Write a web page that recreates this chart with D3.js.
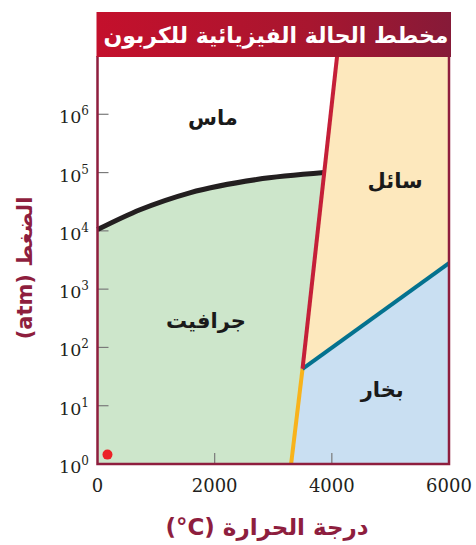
<!DOCTYPE html>
<html><head><meta charset="utf-8">
<script src="https://cdn.jsdelivr.net/npm/d3@7"></script>
<style>body{margin:0;background:#fff}svg{display:block}</style>
</head><body>
<svg id="c" width="476" height="545"></svg>
<script>
// ---- data ----
const title = "مخطط الحالة الفيزيائية للكربون";
const xLabel = "درجة الحرارة \u200E(°C)\u200E";
const yLabel = "الضغط \u200E(atm)\u200E";
const xTicks = [0, 2000, 4000, 6000];
const yTickExps = [0, 1, 2, 3, 4, 5, 6];
const xDomain = [0, 6000];
const yDomain = [1, 1e7];
// diamond / graphite boundary (T °C, P atm)
const graphiteDiamond = [[0, 1.05e4], [725, 2.3e4], [1575, 4.5e4], [2715, 7.6e4], [3870, 1.0e5]];
// solid / liquid boundary
const melting = [[3500, 43], [4090, 1e7]];
// liquid / vapor boundary
const boiling = [[3500, 43], [6000, 2800]];
// graphite / vapor boundary
const sublimation = [[3305, 1], [3500, 43]];
const triple = [3500, 43];
const refPoint = [170, 1.45];
const phaseLabels = [
  {name: "ماس", T: 1970, P: 8.8e5},
  {name: "سائل", T: 5080, P: 7.2e4},
  {name: "جرافيت", T: 1850, P: 280},
  {name: "بخار", T: 4860, P: 18.6}
];

// ---- chart ----
const svg = d3.select("#c");
const x = d3.scaleLinear().domain(xDomain).range([97.5, 449]);
const y = d3.scaleLog().domain(yDomain).range([464, 56]);
const X = d => x(d[0]), Y = d => y(d[1]);
const pt = d => `${x(d[0])},${y(d[1])}`;

const curveLine = d3.line().x(X).y(Y).curve(d3.curveMonotoneX);
const straight = d3.line().x(X).y(Y);

const pTop = yDomain[1], pBot = yDomain[0];
// graphite (green)
const gPath = curveLine(graphiteDiamond) +
  "L" + pt(triple) + "L" + pt(sublimation[0]) + "L" + pt([xDomain[0], pBot]) + "Z";
svg.append("path").attr("d", gPath).attr("fill", "#cde6cb");
// liquid
svg.append("path").attr("d", straight([melting[1], [xDomain[1], pTop], boiling[1], triple]) + "Z")
  .attr("fill", "#fde8bd");
// vapor
svg.append("path").attr("d", straight([triple, boiling[1], [xDomain[1], pBot], sublimation[0]]) + "Z")
  .attr("fill", "#c9dff2");

// ticks (inside)
const tickCol = "#7a7a7a";
svg.append("g").selectAll("line").data(yTickExps.slice(1)).join("line")
  .attr("x1", x(0)).attr("x2", x(0) + 11)
  .attr("y1", d => y(Math.pow(10, d))).attr("y2", d => y(Math.pow(10, d)))
  .attr("stroke", tickCol).attr("stroke-width", 1.2);
svg.append("g").selectAll("line").data(xTicks.slice(1, -1)).join("line")
  .attr("x1", d => x(d)).attr("x2", d => x(d))
  .attr("y1", y(1)).attr("y2", y(1) - 11)
  .attr("stroke", tickCol).attr("stroke-width", 1.2);

// boundary lines
svg.append("path").attr("d", curveLine(graphiteDiamond)).attr("fill", "none")
  .attr("stroke", "#231f20").attr("stroke-width", 5);
svg.append("path").attr("d", straight(sublimation)).attr("fill", "none")
  .attr("stroke", "#f8b31b").attr("stroke-width", 4);
svg.append("path").attr("d", straight(boiling)).attr("fill", "none")
  .attr("stroke", "#04728f").attr("stroke-width", 4);
svg.append("path").attr("d", straight(melting)).attr("fill", "none")
  .attr("stroke", "#c51f38").attr("stroke-width", 4);

// reference point
svg.append("circle").attr("cx", X(refPoint)).attr("cy", Y(refPoint)).attr("r", 5).attr("fill", "#ec2227");

// frame
const frameCol = "#8e1e3e";
svg.append("path")
  .attr("d", `M${x(0)},${y(pTop)}L${x(0)},${y(pBot)}L${x(6000)},${y(pBot)}L${x(6000)},${y(pTop)}`)
  .attr("fill", "none").attr("stroke", frameCol).attr("stroke-width", 2.5);

// phase labels
svg.append("g").selectAll("text").data(phaseLabels).join("text")
  .attr("x", d => x(d.T)).attr("y", d => y(d.P))
  .attr("text-anchor", "middle").attr("dominant-baseline", "central")
  .attr("direction", "rtl")
  .attr("font-family", "DejaVu Sans").attr("font-weight", "bold").attr("font-size", 21)
  .attr("fill", "#1a1a1a").text(d => d.name);

// title bar
const grad = svg.append("defs").append("linearGradient").attr("id", "tg");
grad.append("stop").attr("offset", "0%").attr("stop-color", "#c4102c");
grad.append("stop").attr("offset", "60%").attr("stop-color", "#a8162f");
grad.append("stop").attr("offset", "100%").attr("stop-color", "#861a38");
svg.append("rect").attr("x", 96.5).attr("y", 12).attr("width", 354.5).attr("height", 45)
  .attr("fill", "url(#tg)");
svg.append("text").attr("x", 276).attr("y", 35).attr("text-anchor", "middle")
  .attr("dominant-baseline", "central").attr("direction", "rtl")
  .attr("font-family", "DejaVu Sans").attr("font-weight", "bold").attr("font-size", 22)
  .attr("fill", "#fff").text(title);

// y tick labels
const serif = "DejaVu Serif";
const yl = svg.append("g").selectAll("text").data(yTickExps).join("text")
  .attr("x", 89).attr("y", d => y(Math.pow(10, d)) + 9)
  .attr("text-anchor", "end").attr("font-family", serif).attr("font-size", 17.5).attr("fill", "#231f20");
yl.append("tspan").text("10");
yl.append("tspan").attr("font-size", 12).attr("dy", -8).text(d => d);

// x tick labels
svg.append("g").selectAll("text").data(xTicks).join("text")
  .attr("x", d => x(d)).attr("y", 492)
  .attr("text-anchor", "middle").attr("font-family", serif).attr("font-size", 18).attr("fill", "#231f20")
  .text(d => d);

// axis titles
svg.append("text").attr("x", 267).attr("y", 527).attr("text-anchor", "middle")
  .attr("dominant-baseline", "central").attr("direction", "rtl")
  .attr("font-family", "DejaVu Sans").attr("font-weight", "bold").attr("font-size", 23)
  .attr("fill", frameCol).text(xLabel);
svg.append("text").attr("transform", "translate(25,268) rotate(-90)")
  .attr("text-anchor", "middle").attr("dominant-baseline", "central").attr("direction", "rtl")
  .attr("font-family", "DejaVu Sans").attr("font-weight", "bold").attr("font-size", 21)
  .attr("fill", frameCol).text(yLabel);
</script>
</body></html>
